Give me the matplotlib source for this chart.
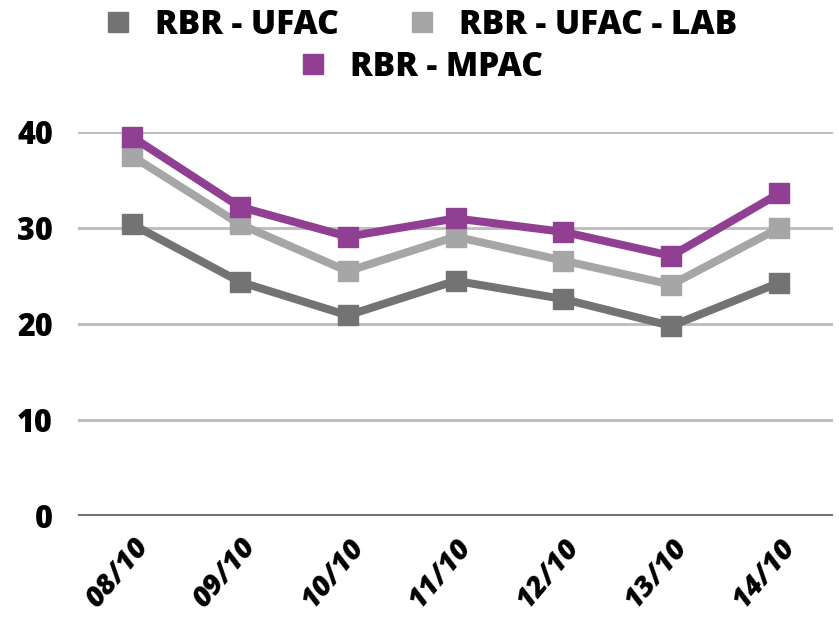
import matplotlib
matplotlib.use('Agg')
import matplotlib.pyplot as plt
from matplotlib.lines import Line2D

# Data
days = ["08/10", "09/10", "10/10", "11/10", "12/10", "13/10", "14/10"]
ufac = [30.4, 24.4, 20.9, 24.5, 22.6, 19.8, 24.3]
ufac_lab = [37.5, 30.4, 25.5, 29.1, 26.6, 24.1, 30.0]
mpac = [39.5, 32.2, 29.1, 31.0, 29.6, 27.1, 33.6]
yticks = [0, 10, 20, 30, 40]

names = ["RBR - UFAC", "RBR - UFAC - LAB", "RBR - MPAC"]
colors = ["#737373", "#a6a6a6", "#913f92"]

plt.rcParams['font.family'] = ['Open Sans', 'DejaVu Sans']

fig = plt.figure(figsize=(8.39, 6.26), dpi=100)
ax = fig.add_axes([0.093, 0.1757, 0.9, 0.6134])

x = list(range(len(days)))
for vals, c in zip([ufac, ufac_lab, mpac], colors):
    ax.plot(x, vals, color=c, linewidth=5.8, marker='s', markersize=15,
            clip_on=False, zorder=3)

ax.set_xlim(-0.5, 6.5)
ax.set_ylim(0, 40)
ax.set_yticks(yticks)
for t in yticks[1:]:
    ax.axhline(t, color='#bfbfbf', linewidth=2.2, zorder=1)
ax.axhline(0, color='#6f6f6f', linewidth=2.8, zorder=2)

for s in ax.spines.values():
    s.set_visible(False)
ax.tick_params(axis='both', length=0)
ax.tick_params(axis='y', pad=18)
ax.set_yticklabels([str(t) for t in yticks], fontsize=22, fontweight='heavy')
ax.set_xticks(x)
ax.set_xticklabels(days, fontsize=21, fontweight='heavy', style='italic',
                   rotation=50, ha='right', rotation_mode='anchor')
ax.tick_params(axis='x', pad=12)

handles = [Line2D([], [], linestyle='none', marker='s', markersize=15, color=c)
           for c in colors]
leg_font = {'weight': 'heavy', 'size': 24}
fig.legend(handles[:2], names[:2], ncol=2, loc='center',
           bbox_to_anchor=(0.5, 0.96), frameon=False, prop=leg_font,
           handlelength=1.0, handletextpad=0.6, columnspacing=2.0)
fig.legend(handles[2:], names[2:], loc='center',
           bbox_to_anchor=(0.5, 0.893), frameon=False, prop=leg_font,
           handlelength=1.0, handletextpad=0.6)

fig.savefig('out.png', dpi=100)
